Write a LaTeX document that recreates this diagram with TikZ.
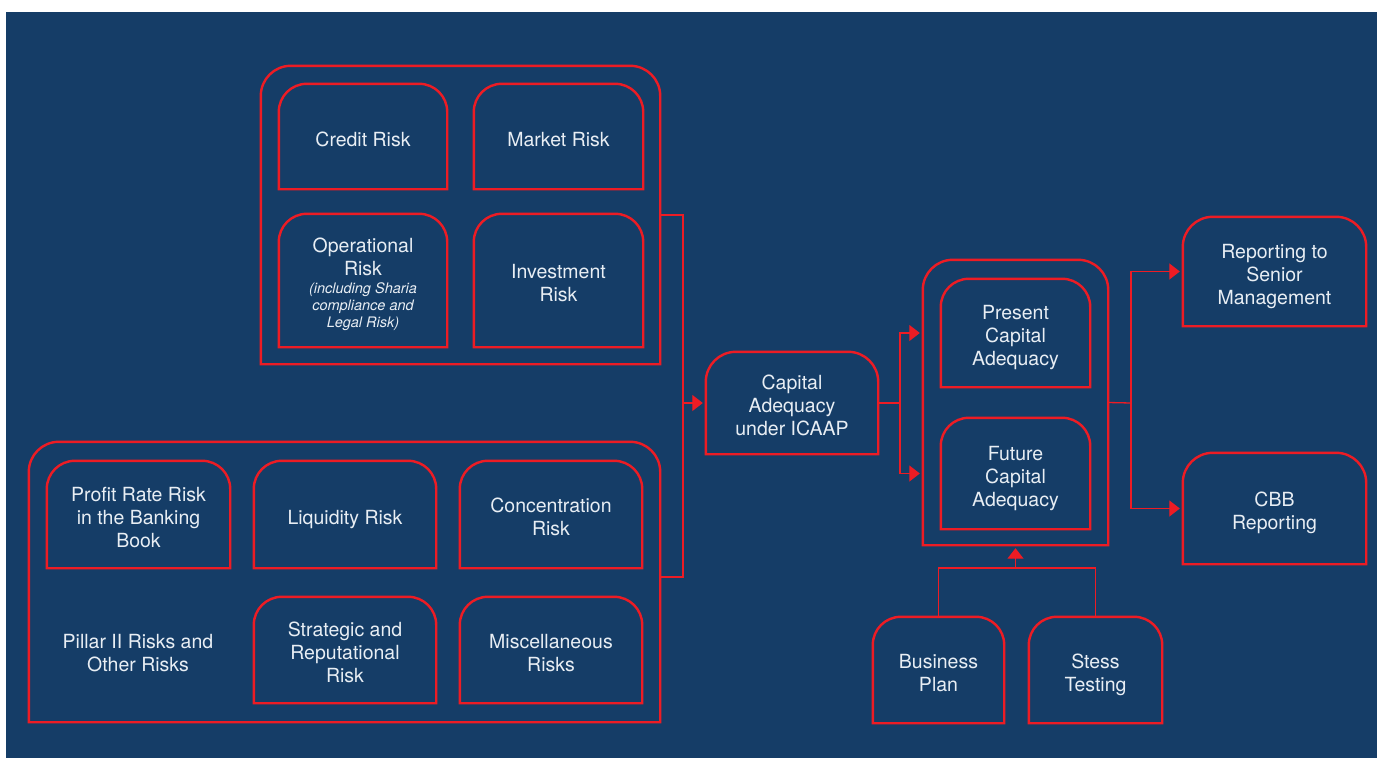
\documentclass[tikz,border=0pt]{standalone}
\usepackage{fontspec}
\setmainfont{TeX Gyre Heros}
\usetikzlibrary{arrows.meta}
\definecolor{bankblue}{RGB}{21,61,103}
\definecolor{bankred}{RGB}{237,28,36}
\definecolor{paletext}{RGB}{232,238,244}
\newcommand\boxfont{\fontsize{19.5}{23}\selectfont}
\newcommand\notefont{\fontsize{14.5}{17}\selectfont\itshape}
\def\roundtop(#1)(#2){\draw[boxline] (#1.south west) -- ([yshift=-#2]#1.north west) arc (180:90:#2) -- ([xshift=-#2]#1.north east) arc (90:0:#2) -- (#1.south east) -- cycle;}
\tikzset{
  boxline/.style={draw=bankred, line width=2.4pt},
  riskbox/.style={text=paletext, align=center, inner sep=0pt, font=\boxfont, text depth=5pt},
  oneline/.style={riskbox, text height=24pt},
  twoline/.style={riskbox, text height=47pt},
  threeline/.style={riskbox, text height=70pt},
  link/.style={draw=bankred, line width=1.3pt},
  flow/.style={link, -{Triangle[length=10.5pt,width=16pt]}, shorten >=3pt}
}
\begin{document}
\begin{tikzpicture}[x=1pt,y=1pt]
		%%%%% BACKGROUND %%%%%
		\useasboundingbox (0,0) rectangle (1377,-758);
		\fill[white] (0,0) rectangle (1377,-758);
		\fill[bankblue] (6,-12) rectangle (1377,-758);
		
		%%%%% PILLAR I %%%%%
		\node[riskbox, minimum width=399pt, minimum height=298pt] (pillarone) at (460.5,-215) {};
		\node[oneline, minimum width=168pt, minimum height=105pt] (credit) at (363,-136.5) {Credit Risk};
		\node[oneline, minimum width=169pt, minimum height=105pt] (market) at (558.5,-136.5) {Market Risk};
		\node[riskbox, text height=98pt, minimum width=168pt, minimum height=133pt] (oper) at (363,-280.5) {Operational\\Risk\\[-5pt]{\notefont (including Sharia}\\[-6pt]{\notefont compliance and}\\[-6pt]{\notefont Legal Risk)}};
		\node[twoline, minimum width=169pt, minimum height=133pt] (invest) at (558.5,-280.5) {Investment\\Risk};
		\roundtop(pillarone)(30pt)
		\roundtop(credit)(28pt)
		\roundtop(market)(28pt)
		\roundtop(oper)(28pt)
		\roundtop(invest)(28pt)
		
		%%%%% PILLAR II %%%%%
		\node[riskbox, minimum width=631pt, minimum height=280pt] (pillartwo) at (344.5,-582) {};
		\node[threeline, minimum width=183pt, minimum height=107pt] (profit) at (138.5,-514.5) {Profit Rate Risk\\in the Banking\\Book};
		\node[oneline, minimum width=182pt, minimum height=107pt] (liquid) at (345,-514.5) {Liquidity Risk};
		\node[twoline, minimum width=182pt, minimum height=107pt] (concen) at (551,-514.5) {Concentration\\Risk};
		\node[threeline, minimum width=182pt, minimum height=106pt] (strat) at (345,-650) {Strategic and\\Reputational\\Risk};
		\node[twoline, minimum width=182pt, minimum height=106pt] (misc) at (551,-650) {Miscellaneous\\Risks};
		\node[twoline] (pillarlabel) at (138,-650) {Pillar II Risks and\\Other Risks};
		\roundtop(pillartwo)(30pt)
		\roundtop(profit)(28pt)
		\roundtop(liquid)(28pt)
		\roundtop(concen)(28pt)
		\roundtop(strat)(28pt)
		\roundtop(misc)(28pt)
		
		%%%%% ICAAP %%%%%
		\node[threeline, minimum width=172pt, minimum height=102pt] (icaap) at (792,-403) {Capital\\Adequacy\\under ICAAP};
		\roundtop(icaap)(30pt)
		
		\node[riskbox, minimum width=185pt, minimum height=285pt] (adequacy) at (1015.5,-402.5) {};
		\node[threeline, minimum width=149pt, minimum height=108pt] (present) at (1015.5,-333) {Present\\Capital\\Adequacy};
		\node[threeline, minimum width=149pt, minimum height=111pt] (future) at (1015.5,-473.5) {Future\\Capital\\Adequacy};
		\roundtop(adequacy)(30pt)
		\roundtop(present)(28pt)
		\roundtop(future)(28pt)
		
		\node[twoline, minimum width=131pt, minimum height=106pt] (busplan) at (938.5,-670) {Business\\Plan};
		\node[twoline, minimum width=133pt, minimum height=106pt] (stress) at (1095.5,-670) {Stess\\Testing};
		\roundtop(busplan)(28pt)
		\roundtop(stress)(28pt)
		
		\node[threeline, minimum width=183pt, minimum height=109pt] (report) at (1274.5,-271.5) {Reporting to\\Senior\\Management};
		\node[twoline, minimum width=183pt, minimum height=111pt] (cbb) at (1274.5,-508.5) {CBB\\Reporting};
		\roundtop(report)(30pt)
		\roundtop(cbb)(30pt)
		
		%%%%% CONNECTORS %%%%%
		\coordinate (joinrisk) at (683,-403);
		\coordinate (joinicaap) at (900,-403);
		\coordinate (joinreport) at (1131,-403);
		\coordinate (joinplan) at (1015.5,-568);
		
		\draw[link] (pillarone.east) -| (joinrisk) |- ([yshift=5pt]pillartwo.east);
		\draw[flow] (joinrisk) -- (icaap.west);
		
		\draw[link] (icaap.east) -- (joinicaap);
		\draw[flow] (joinicaap) |- (present -| adequacy.west);
		\draw[flow] (joinicaap) |- (future -| adequacy.west);
		
		\draw[link] (adequacy.east) -- (joinreport);
		\draw[flow] (joinreport) |- (report.west);
		\draw[flow] (joinreport) |- (cbb.west);
		
		\draw[link] (busplan.north) |- (joinplan) -| (stress.north);
		\draw[flow] (joinplan) -- (adequacy.south);
		
		%%%%% END %%%%%
	\end{tikzpicture}
\end{document}
